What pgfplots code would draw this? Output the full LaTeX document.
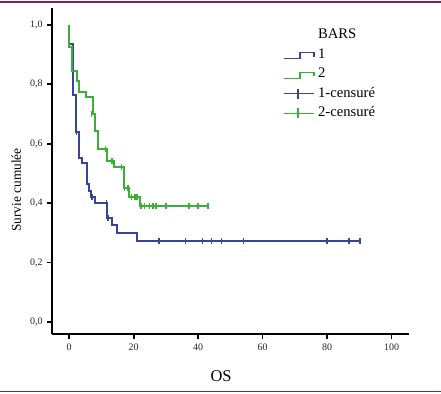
\documentclass[border=0pt]{standalone}
\usepackage{fontspec}
\setmainfont{Liberation Serif}
\usepackage{pgfplots}
\pgfplotsset{compat=1.18}
\definecolor{maroonline}{RGB}{140,30,80}
\definecolor{kmblue}{RGB}{58,68,150}
\definecolor{kmgreen}{RGB}{60,175,55}
\pgfplotsset{
  steplegend/.style={legend image code/.code={
    \draw[##1] (0bp,-4bp) -- (16bp,-4bp) -- (16bp,2bp) -- (30bp,2bp) -- (30bp,-2bp);
    \path (32.5bp,0bp);}},
  censlegend/.style={legend image code/.code={
    \draw[##1] (0bp,0bp) -- (30bp,0bp); \draw[##1] (14bp,-5bp) -- (14bp,5bp);
    \path (32.5bp,0bp);}},
}
\begin{document}
\begin{tikzpicture}
\path[use as bounding box] (0bp,0bp) rectangle (441bp,394bp);
\draw[maroonline, line width=1.3bp] (0bp,392bp) -- (441bp,392bp);
\draw[maroonline, line width=1.3bp] (0bp,2.3bp) -- (441bp,2.3bp);
\begin{axis}[
  at={(51.7bp,60bp)}, anchor=south west,
  scale only axis, width=357.3bp, height=326bp,
  xmin=-5.4, xmax=105.4, ymin=-0.0404, ymax=1.057,
  axis x line*=bottom, axis y line*=left,
  axis line style={line width=2bp, -},
  xtick={0,20,40,60,80,100},
  ytick={0,0.2,0.4,0.6,0.8,1.0},
  tick align=outside, major tick length=5bp,
  every tick/.style={black, line width=1.8bp},
  /pgf/number format/assume math mode=true,
  tick label style={font=\fontsize{10}{11}\selectfont, text=black!85},
  yticklabel style={/pgf/number format/fixed, /pgf/number format/fixed zerofill,
    /pgf/number format/precision=1, /pgf/number format/use comma, xshift=-0.5bp},
  xticklabel style={/pgf/number format/fixed, /pgf/number format/precision=0, yshift=-1bp},
  xlabel={OS}, ylabel={Survie cumulée},
  xlabel style={font=\fontsize{16.5}{18}\selectfont, at={(axis description cs:0.474,-0.129)}, anchor=center},
  ylabel style={font=\fontsize{13.4}{15}\selectfont, at={(axis description cs:-0.099,0.442)}, anchor=center},
  clip=false,
  legend style={draw=none, fill=none, at={(axis description cs:0.648,0.9425)}, anchor=north west,
    font=\fontsize{14.7}{16}\selectfont, row sep=3bp, inner sep=0pt,
    nodes={inner sep=1bp, text height=11bp, text depth=3.5bp}},
  legend cell align=left,
]
\addlegendimage{empty legend}
\addlegendentry{BARS}
\addlegendimage{kmblue, line width=1.2bp, steplegend}
\addlegendentry{1}
\addlegendimage{kmgreen, line width=1.2bp, steplegend}
\addlegendentry{2}
\addlegendimage{kmblue, line width=1.2bp, censlegend}
\addlegendentry{1-censuré}
\addlegendimage{kmgreen, line width=1.2bp, censlegend}
\addlegendentry{2-censuré}

% group 1 (blue) steps
\addplot[kmblue, line width=2bp, const plot mark left, forget plot] coordinates {
(0,1.0) (0,0.935) (1.2,0.764) (2.1,0.639) (3.2,0.551) (4.0,0.534) (5.4,0.465)
(6.1,0.441) (6.75,0.42) (7.95,0.40) (11.8,0.349) (13.15,0.327) (15.0,0.299)
(21.2,0.273) (90.2,0.273)};
\addplot[kmblue, only marks, mark=|, mark size=3bp, mark options={line width=1.5bp}, forget plot] coordinates {
(2.3,0.639) (7.1,0.42) (11.6,0.40) (12.1,0.349) (27.9,0.273) (36.1,0.273) (41.4,0.273)
(44.2,0.273) (47.3,0.273) (54.1,0.273) (80.0,0.273) (86.8,0.273) (90.2,0.273)};

% group 2 (green) steps
\addplot[kmgreen, line width=2bp, const plot mark left, forget plot] coordinates {
(0,1.0) (0,0.925) (1.05,0.845) (2.4,0.811) (3.1,0.775) (5.2,0.757) (7.3,0.70)
(8.1,0.644) (9.1,0.581) (11.6,0.542) (13.9,0.521) (17.06,0.45) (18.6,0.422)
(22.1,0.392) (43.1,0.392)};
\addplot[kmgreen, only marks, mark=|, mark size=3bp, mark options={line width=1.5bp}, forget plot] coordinates {
(7.0,0.70) (11.3,0.581) (13.3,0.542) (16.3,0.521) (17.2,0.45) (18.3,0.45)
(19.35,0.422) (20.4,0.422) (21.1,0.422) (22.3,0.392) (23.3,0.392) (25.0,0.392)
(26.05,0.392) (26.9,0.392) (30.0,0.392) (37.2,0.392) (40.0,0.392) (43.1,0.392)};
\end{axis}
\end{tikzpicture}
\end{document}
